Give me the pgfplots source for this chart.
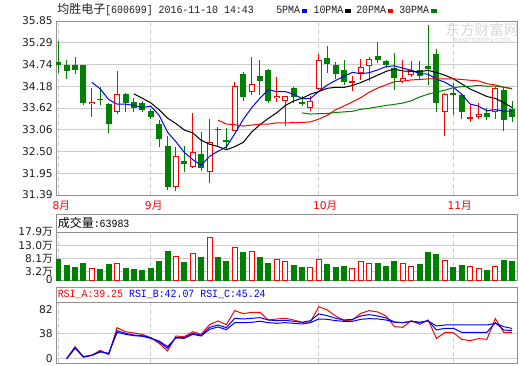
\documentclass[border=0pt]{standalone}
\usepackage{pgfplots}
\pgfplotsset{compat=1.18}
\usepackage{pgfplotstable}
\usepackage{fontspec}
\setmainfont{DejaVu Sans}
\newfontfamily\cjk{Noto Sans CJK SC}
\newfontfamily\mono[FakeStretch=0.9]{Liberation Mono}
\definecolor{kgreen}{RGB}{0,128,0}
\definecolor{kred}{RGB}{255,0,0}
\definecolor{kblue}{RGB}{0,0,255}
\definecolor{gridc}{RGB}{205,205,205}
\definecolor{framec}{RGB}{145,145,145}
\definecolor{txt}{RGB}{30,30,30}
\definecolor{wm}{RGB}{215,215,215}

% daily candles (index, open, high, low, close)
\pgfplotstableread{
i O H L C
0 34.79 35.35 34.53 34.71
1 34.71 34.86 34.37 34.56
2 34.71 34.92 34.50 34.59
3 34.71 34.72 33.69 33.76
5 33.86 34.16 33.69 33.84
6 33.73 33.74 32.99 33.22
8 33.99 34.00 33.53 33.76
9 33.78 33.88 33.51 33.63
10 33.75 33.81 33.52 33.56
11 33.55 33.59 33.34 33.40
12 33.22 33.30 32.63 32.82
13 32.65 32.91 31.52 31.60
15 32.26 32.65 31.99 32.19
17 32.44 33.01 32.01 32.09
19 33.09 33.14 32.61 33.05
20 32.80 33.10 32.57 32.74
22 34.50 34.54 33.81 33.91
24 34.45 34.86 33.96 34.30
25 34.60 34.63 33.75 33.81
28 34.14 34.15 33.76 33.90
29 33.77 33.92 33.68 33.75
32 34.89 35.22 34.52 34.74
33 34.73 34.81 34.37 34.49
34 34.60 34.86 34.20 34.28
38 34.96 35.31 34.78 34.84
39 34.83 34.84 34.64 34.71
40 34.65 35.03 34.07 34.40
43 34.60 34.83 34.33 34.43
44 34.69 35.76 34.20 34.63
45 35.01 35.12 33.53 33.75
47 34.00 34.26 33.45 33.98
48 33.96 33.97 33.34 33.51
51 33.50 33.62 33.30 33.40
53 34.09 34.13 33.02 33.32
54 33.60 33.81 33.25 33.38
}\greenK
\pgfplotstableread{
i O H L C
4 33.72 34.14 33.40 33.78
7 33.51 34.58 33.47 33.99
14 31.60 32.61 31.50 32.39
16 32.12 33.50 32.09 32.49
18 31.99 33.34 31.71 32.74
21 33.04 34.28 33.02 34.18
23 34.03 34.92 33.95 34.24
26 33.87 34.42 33.78 33.93
27 33.80 33.94 33.15 33.93
30 33.63 33.92 33.54 33.80
31 34.11 35.01 34.09 34.85
35 34.26 34.43 34.05 34.31
36 34.52 34.88 34.35 34.67
37 34.70 34.92 34.30 34.88
41 34.32 34.86 34.26 34.38
42 34.47 34.83 34.42 34.60
46 33.53 34.00 32.91 33.99
49 33.34 33.73 33.26 33.39
50 33.40 33.75 33.34 33.46
52 33.51 34.17 33.34 34.13
}\redK
% moving averages
\pgfplotstableread{
i v
4 34.280
5 34.106
6 33.838
7 33.718
8 33.718
9 33.688
10 33.632
11 33.668
12 33.434
13 33.002
14 32.754
15 32.480
16 32.298
17 32.152
18 32.380
19 32.512
20 32.622
21 32.960
22 33.324
23 33.624
24 33.874
25 34.088
26 34.038
27 34.042
28 33.974
29 33.864
30 33.862
31 34.046
32 34.208
33 34.326
34 34.432
35 34.534
36 34.498
37 34.526
38 34.596
39 34.682
40 34.700
41 34.642
42 34.586
43 34.504
44 34.488
45 34.358
46 34.280
47 34.156
48 33.972
49 33.724
50 33.666
51 33.548
52 33.578
53 33.540
54 33.538
}\maV
\pgfplotstableread{
i v
9 33.984
10 33.869
11 33.753
12 33.576
13 33.360
14 33.221
15 33.056
16 32.983
17 32.793
18 32.691
19 32.633
20 32.551
21 32.629
22 32.738
23 33.002
24 33.193
25 33.355
26 33.499
27 33.683
28 33.799
29 33.869
30 33.975
31 34.042
32 34.125
33 34.150
34 34.148
35 34.198
36 34.272
37 34.367
38 34.461
39 34.557
40 34.617
41 34.570
42 34.556
43 34.550
44 34.585
45 34.529
46 34.461
47 34.371
48 34.238
49 34.106
50 34.012
51 33.914
52 33.867
53 33.756
54 33.631
}\maX
\pgfplotstableread{
i v
19 33.309
20 33.210
21 33.191
22 33.157
23 33.181
24 33.207
25 33.206
26 33.241
27 33.238
28 33.245
29 33.251
30 33.263
31 33.336
32 33.432
33 33.576
34 33.671
35 33.777
36 33.886
37 34.025
38 34.130
39 34.213
40 34.296
41 34.306
42 34.341
43 34.350
44 34.367
45 34.364
46 34.367
47 34.369
48 34.350
49 34.332
50 34.315
51 34.242
52 34.212
53 34.153
54 34.108
}\maXX
\pgfplotstableread{
i v
29 33.495
30 33.465
31 33.475
32 33.480
33 33.504
34 33.521
35 33.536
36 33.585
37 33.614
38 33.650
39 33.686
40 33.714
41 33.747
42 33.806
43 33.901
44 33.975
45 34.027
46 34.077
47 34.140
48 34.166
49 34.177
50 34.201
51 34.175
52 34.183
53 34.152
54 34.121
}\maXXX
% volume (10k shares)
\pgfplotstableread{
i V
0 7.88
1 5.63
2 4.88
3 6.38
5 4.13
6 6.00
8 4.50
9 4.13
10 3.75
11 4.50
12 7.13
13 10.88
15 6.75
17 8.63
19 8.26
20 7.13
22 10.26
24 8.38
25 6.38
28 5.63
29 4.88
32 6.00
33 4.88
34 5.25
38 6.38
39 5.25
40 7.13
43 6.00
44 10.50
45 9.76
47 4.88
48 5.63
51 3.75
53 7.50
54 7.13
}\greenV
\pgfplotstableread{
i V
4 4.39
7 6.38
14 8.88
16 10.13
18 16.00
21 12.26
23 10.88
26 7.88
27 7.13
30 4.88
31 7.88
35 4.50
36 7.13
37 6.38
41 6.38
42 5.25
46 7.50
49 5.25
50 4.50
52 5.25
}\redV
% RSI
\pgfplotstableread{
i A B C
1 0 0 0
2 18 16.4 15.4
3 2 2.5 3
4 5 5 5
5 12.4 10.9 9.9
6 6 7 8
7 46.4 41.9 39.4
8 40.4 37.9 36.4
9 38.4 35.4 34.4
10 36.4 34.4 33.4
11 31.4 31.4 30.4
12 22.9 24.9 26.4
13 11.4 15.4 17.9
14 33.9 31.9 30.9
15 32.9 31.4 30.4
16 40.4 37.9 36.4
17 36.4 34.9 33.9
18 50.9 46.9 43.9
19 56.4 50.4 47.4
20 50.9 46.4 43.4
21 71.9 60.4 53.9
22 67.4 59.4 53.9
23 69.4 60.4 54.4
24 69.4 61.4 56.0
25 57.9 57.9 53.9
26 59.4 56.9 52.9
27 60.4 57.4 53.9
28 57.9 55.9 52.9
29 54.4 54.4 51.9
30 54.9 56.9 53.9
31 77.9 66.9 59.4
32 72.9 64.4 58.9
33 63.9 60.4 56.9
34 56.9 57.9 55.9
35 57.9 58.9 55.9
36 67.9 63.9 58.9
37 71.9 65.9 59.9
38 69.9 63.9 59.4
39 63.9 60.9 57.9
40 47.9 54.9 54.4
41 46.9 53.9 53.9
42 56.9 55.9 55.9
43 51.4 53.9 54.4
44 57.9 56.9 56.4
45 30.4 42.9 48.9
46 38.9 45.4 50.4
47 38.9 45.4 50.4
48 28.9 39.4 50.4
49 26.9 39.4 50.4
50 29.9 39.4 50.4
51 28.9 39.4 50.4
52 59.9 53.9 52.9
53 39.4 42.9 47.9
54 39.25 42.07 45.24
}\rsi

\begin{document}
\begin{tikzpicture}[x=0.75pt,y=-0.75pt]
\useasboundingbox (0,0) rectangle (520,365);
\pgfplotsset{
 panel/.style={
   scale only axis, width=345.75pt,
   xmin=-0.27, xmax=54.58,
   axis line style={framec, line width=0.75pt},
   major tick length=0pt,
   xmajorgrids, ymajorgrids,
   x grid style={gridc, dash pattern=on 3pt off 2.25pt, line width=0.75pt},
   y grid style={gridc, line width=0.75pt},
   xtick={0,11,31,47},
   yticklabel style={font=\fontsize{8}{9}\selectfont, text=txt, inner sep=0pt, anchor=east, xshift=-2.25pt},
 },
 ebar/.style={only marks, mark=*, mark size=0pt, mark options={draw=none, fill=none, draw opacity=0, fill opacity=0}, forget plot, error bars/.cd, y dir=both, y explicit, error mark=none, error bar style={#1}},
}
% header
\node[anchor=west, inner sep=0pt, text=txt] at (57,10) {{\cjk\fontsize{9}{10}\selectfont 均胜电子}{\mono\fontsize{8.25}{9}\selectfont[600699] 2016-11-10 14:43}};
\node[anchor=west, inner sep=0pt, text=txt, font=\mono\fontsize{8.25}{9}\selectfont] at (276,10) {5PMA};
\fill[kblue] (301.7,9.3) rectangle (307.3,12.5);
\node[anchor=west, inner sep=0pt, text=txt, font=\mono\fontsize{8.25}{9}\selectfont] at (313.3,10) {10PMA};
\fill[black] (345,9.3) rectangle (350.7,12.5);
\node[anchor=west, inner sep=0pt, text=txt, font=\mono\fontsize{8.25}{9}\selectfont] at (356,10) {20PMA};
\fill[kred] (387.7,9.3) rectangle (393.3,12.5);
\node[anchor=west, inner sep=0pt, text=txt, font=\mono\fontsize{8.25}{9}\selectfont] at (399,10) {30PMA};
\fill[kgreen] (431,9.3) rectangle (436.7,12.5);
% watermark
\node[inner sep=0pt, text=wm, font=\cjk\fontsize{11}{12}\selectfont] at (482,30) {东方财富网};
\node[inner sep=0pt, text=wm, font=\fontsize{5.5}{6}\selectfont] at (482,40.5) {eastmoney.com};

% ---------- price panel ----------
\begin{axis}[panel, at={(42pt,-146.25pt)}, anchor=south west, height=130.5pt,
  ymin=31.39, ymax=35.85,
  ytick={31.39,31.95,32.50,33.06,33.62,34.18,34.74,35.29,35.85},
  yticklabels={31.39,31.95,32.50,33.06,33.62,34.18,34.74,35.29,35.85},
  xticklabels={8{\cjk 月},9{\cjk 月},10{\cjk 月},11{\cjk 月}},
  xticklabel style={font=\fontsize{8}{9}\selectfont, text=kred, anchor=north west, inner sep=0pt, xshift=-4.5pt, yshift=-4.5pt},
]
% wicks
\addplot[ebar={line width=0.75pt, kgreen}] table[x=i, y expr={(\thisrow{H}+\thisrow{L})/2}, y error expr={(\thisrow{H}-\thisrow{L})/2}] {\greenK};
\addplot[ebar={line width=0.75pt, kred}] table[x=i, y expr={(\thisrow{H}+\thisrow{L})/2}, y error expr={(\thisrow{H}-\thisrow{L})/2}] {\redK};
% bodies
\addplot[ebar={line width=4.5pt, kgreen}] table[x=i, y expr={(\thisrow{O}+\thisrow{C})/2}, y error expr={max(abs(\thisrow{O}-\thisrow{C})/2,0.013)}] {\greenK};
\addplot[ebar={line width=4.5pt, kred}] table[x=i, y expr={(\thisrow{O}+\thisrow{C})/2}, y error expr={max(abs(\thisrow{O}-\thisrow{C})/2,0.013)}] {\redK};
\addplot[ebar={line width=3pt, white}] table[x=i, y expr={(\thisrow{O}+\thisrow{C})/2}, y error expr={max(abs(\thisrow{O}-\thisrow{C})/2-0.0257,0)}] {\redK};
% moving averages
\addplot[kblue, line width=0.75pt, mark=none] table[x=i, y=v] {\maV};
\addplot[black, line width=0.75pt, mark=none] table[x=i, y=v] {\maX};
\addplot[kred, line width=0.75pt, mark=none] table[x=i, y=v] {\maXX};
\addplot[kgreen, line width=0.75pt, mark=none] table[x=i, y=v] {\maXXX};
\end{axis}

% ---------- volume panel ----------
\draw[framec, line width=0.75pt] (56,214.3) rectangle (517,232.3);
\node[anchor=west, inner sep=0pt, text=black] at (57.5,223.3) {{\cjk\fontsize{9}{10}\selectfont 成交量}{\mono\fontsize{8.25}{9}\selectfont:63983}};
\begin{axis}[panel, at={(42pt,-210pt)}, anchor=south west, height=35.775pt,
  ymin=0, ymax=17.9, ytick={0,3.2,8.1,13.0,17.9},
  yticklabels={0,3.2{\cjk 万},8.1{\cjk 万},13.0{\cjk 万},17.9{\cjk 万}},
  xticklabels={},
]
\addplot[ybar, bar width=3.75pt, bar shift=0pt, fill=kgreen, draw=kgreen, line width=0.75pt] table[x=i, y=V] {\greenV};
\addplot[ybar, bar width=3.75pt, bar shift=0pt, fill=white, draw=kred, line width=0.75pt] table[x=i, y=V] {\redV};
\end{axis}

% ---------- RSI panel ----------
\draw[framec, line width=0.75pt] (56,287.7) rectangle (517,302.3);
\node[anchor=west, inner sep=0pt] at (57.5,294.5) {\mono\fontsize{8.25}{9}\selectfont\textcolor{kred}{RSI\_A:39.25} \textcolor{kblue}{RSI\_B:42.07 RSI\_C:45.24}};
\begin{axis}[panel, at={(42pt,-272.475pt)}, anchor=south west, height=45.75pt,
  ymin=-7.05, ymax=84.4, ytick={0,38}, yticklabels={0,38},
  extra y ticks={82}, extra y tick labels={82},
  extra y tick style={major grid style={draw=none}, yticklabel style={yshift=-4.5pt}},
  xticklabels={},
]
\addplot[kred, line width=0.75pt, mark=none] table[x=i, y=A] {\rsi};
\addplot[kblue, line width=0.75pt, mark=none] table[x=i, y=B] {\rsi};
\addplot[kblue, line width=0.75pt, mark=none] table[x=i, y=C] {\rsi};
\end{axis}
\end{tikzpicture}
\end{document}
